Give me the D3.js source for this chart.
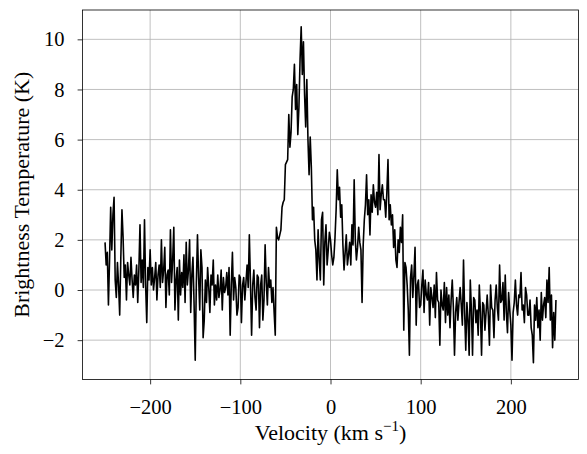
<!DOCTYPE html>
<html>
<head>
<meta charset="utf-8">
<script src="https://cdn.jsdelivr.net/npm/d3@7"></script>
<style>
    body { margin: 0; background: #fff; }
    text { font-family: "Liberation Serif", "DejaVu Serif", serif; fill: #000; }
</style>
</head>
<body>
<div id="main"></div>
<script>
/// Data ///
// channel grid of the spectrum (km/s)
const velStart = -250;
const velStop = 250;
const velStep = 1.25;

// brightness temperature per channel (K) (8 channels = 10 km/s per row)
const temps = [
     1.9,  1.0,  1.5, -0.6,  1.2,  3.3,  1.6,  3.0,   // -250
     3.7,  0.4, -0.3,  1.1,  0.2, -1.0,  1.3,  3.2,   // -240
     2.1,  0.5,  1.0, -0.4,  1.1,  0.6,  0.2,  1.3,   // -230
     0.4, -0.3,  0.6,  0.2,  1.0, -0.5,  0.8,  2.6,   // -220
     0.3,  1.2,  0.1,  2.8,  0.2, -1.3,  0.9,  0.4,   // -210
     1.6,  0.2,  0.9,  0.0,  0.5,  1.1, -0.4,  0.6,   // -200
     1.0,  0.1,  2.0,  0.3,  0.8,  1.7, -0.7,  0.6,   // -190
     0.8, -0.2,  2.4,  0.3,  1.2,  2.5, -0.8,  0.4,   // -180
     0.9, -1.2,  1.2, -0.2,  0.7,  0.1,  1.4, -0.5,   // -170
     1.9,  0.2,  0.8,  2.0, -0.9,  0.6,  1.3, -0.6,   // -160
    -2.8,  0.3,  2.2,  0.5, -0.8,  1.6,  0.9, -1.9,   // -150
    -1.2,  0.4, -0.5,  0.9,  0.1, -0.9,  0.6,  0.2,   // -140
     1.2, -0.6,  0.2, -0.4,  0.6, -0.3,  0.0,  0.8,   // -130
    -0.8,  0.5, -0.1,  0.1,  0.7, -0.2,  0.9, -1.8,   // -120
     0.2,  1.5, -0.4,  0.5,  0.1, -1.0, -0.7,  0.6,   // -110
     0.5, -1.3,  0.2,  0.5, -0.4,  0.3,  1.0,  0.1,   // -100
     2.2,  0.3, -1.8,  0.2,  0.8, -0.3, -0.8,  0.6,   // -90
     0.5, -1.5,  0.2,  0.6, -1.2, -0.4,  1.8,  0.3,   // -80
    -0.6,  0.9,  0.1,  0.4, -0.5,  0.1, -0.9, -1.8,   // -70
     2.5,  2.1,  2.0,  2.2,  2.4,  3.3,  3.5,  3.6,   // -60
     5.0,  5.1,  5.2,  7.0,  5.7,  6.3,  7.7,  8.0,   // -50
     9.0,  7.2,  8.2,  6.2,  7.3,  9.2, 10.5,  8.6,   // -40
     9.9,  7.8,  6.5,  8.4,  6.0,  4.6,  6.1,  4.9,   // -30
     2.8,  3.3,  2.0,  1.6,  0.4,  2.4,  1.2,  0.4,   // -20
     2.8,  3.1,  0.2,  1.9,  2.6,  1.0,  1.6,  2.3,   // -10
     2.0,  1.4,  1.0,  1.3,  2.1,  3.2,  4.8,  3.6,   // 0
     4.1,  2.9,  3.4,  1.8,  0.8,  1.5,  2.2,  1.0,   // 10
     1.4,  1.9,  1.0,  2.6,  1.8,  4.4,  2.0,  1.2,   // 20
     1.7,  2.5,  1.9,  1.6, -0.5,  1.8,  2.8,  3.4,   // 30
     4.6,  3.0,  3.6,  2.2,  3.8,  3.1,  4.2,  3.5,   // 40
     3.3,  3.9,  3.0,  5.4,  3.2,  3.8,  4.2,  3.6,   // 50
     3.6,  2.9,  3.9,  5.2,  2.8,  3.4,  2.6,  3.0,   // 60
     1.7,  2.4,  1.2,  0.9,  2.0,  1.5,  2.5,  1.9,   // 70
     3.0, -1.6,  1.1,  0.9,  0.2, -0.8, -2.6,  0.5,   // 80
     1.0, -0.3,  0.6,  1.7, -1.4,  0.2,  0.4, -0.7,   // 90
    -0.6,  0.2,  0.8, -0.9,  0.4, -0.2, -0.4,  0.3,   // 100
    -1.4,  0.1, -0.3, -0.7,  0.2, -1.1,  0.7, -0.4,   // 110
    -0.5, -2.2,  0.0, -0.6, -0.8,  0.3, -1.3,  0.1,   // 120
    -1.0, -0.2, -1.5, -0.4,  0.4, -0.7, -2.6, -0.9,   // 130
    -0.3, -1.2, -0.5,  0.1, -0.6, -1.4,  1.2, -0.9,   // 140
    -2.4, -0.5, -1.2, -2.6,  0.4, -0.8, -2.6, -0.3,   // 150
    -0.4, -1.3, -0.8, -1.8,  0.2, -0.9, -2.6, -0.5,   // 160
    -0.6, -1.6, -0.9, -0.2, -1.0, -2.2,  0.2, -0.7,   // 170
    -0.8, -1.9, -0.4,  0.2, -0.7, -1.2,  1.0, -0.5,   // 180
    -0.4,  0.3, -1.2,  0.6, -0.9, -1.7, -0.1, -0.8,   // 190
    -1.4, -2.8, -0.9, -0.5,  0.4, -0.6, -1.0, -0.2,   // 200
    -0.3,  0.7, -0.8, -0.6, -1.3,  0.1, -0.2, -1.0,   // 210
    -1.0, -0.4, -1.5, -1.8, -2.9, -0.6, -1.2, -0.3,   // 220
    -1.5, -0.8, -2.0, -0.1, -1.2, -0.6, -0.3, -1.1,   // 230
     0.4, -0.5,  0.9, -1.2, -0.2, -2.3, -0.9, -2.0,   // 240
    -0.4                                              // 250
];

const xTicks = [-200, -100, 0, 100, 200];
const yTicks = [-2, 0, 2, 4, 6, 8, 10];

const velocity = d3.range(velStart, velStop + velStep / 2, velStep);
const spectrum = velocity.map((v, i) => ({ v: v, t: temps[i] }));

/// Layout ///
const w = 587;
const h = 454;
const margin = { top: 10, right: 8.5, bottom: 74.5, left: 82.5 };

const svg = d3.select('#main')
            .append('svg')
            .attr('width', w)
            .attr('height', h);

// matplotlib style 5% padding around the data
function padded(ext) {
    const pad = (ext[1] - ext[0]) * 0.05;
    return [ext[0] - pad, ext[1] + pad];
}

const x = d3.scaleLinear()
            .domain(padded(d3.extent(velocity)))
            .range([margin.left, w - margin.right]);

const y = d3.scaleLinear()
            .domain(padded(d3.extent(temps)))
            .range([h - margin.bottom, margin.top]);

/// Grid ///
svg.append('g')
    .selectAll('line')
    .data(xTicks)
    .enter()
    .append('line')
    .attr('x1', d => x(d)).attr('x2', d => x(d))
    .attr('y1', margin.top).attr('y2', h - margin.bottom)
    .attr('stroke', '#b0b0b0')
    .attr('stroke-width', 0.8);

svg.append('g')
    .selectAll('line')
    .data(yTicks)
    .enter()
    .append('line')
    .attr('x1', margin.left).attr('x2', w - margin.right)
    .attr('y1', d => y(d)).attr('y2', d => y(d))
    .attr('stroke', '#b0b0b0')
    .attr('stroke-width', 0.8);

/// Spectrum line ///
const line = d3.line()
            .x(d => x(d.v))
            .y(d => y(d.t));

svg.append('path')
    .datum(spectrum)
    .attr('d', line)
    .attr('fill', 'none')
    .attr('stroke', '#000')
    .attr('stroke-width', 1.6)
    .attr('stroke-linejoin', 'round');

/// Axes ///
const fmt = d => (d < 0 ? '\u2212' + Math.abs(d) : String(d));

const xAxis = svg.append('g')
                .attr('transform', `translate(0,${h - margin.bottom})`)
                .call(d3.axisBottom(x).tickValues(xTicks).tickSize(4.9).tickPadding(5).tickFormat(fmt));

const yAxis = svg.append('g')
                .attr('transform', `translate(${margin.left},0)`)
                .call(d3.axisLeft(y).tickValues(yTicks).tickSize(4.9).tickPadding(13).tickFormat(fmt));

[xAxis, yAxis].forEach(a => {
    a.select('.domain').remove();
    a.selectAll('line').attr('stroke', '#000').attr('stroke-width', 0.8);
    a.selectAll('text')
        .style('font-family', '"Liberation Serif", serif')
        .style('font-size', '20.5px')
        .attr('fill', '#000');
});
xAxis.selectAll('text').attr('dy', '1.2em');

// frame around the plot area
svg.append('rect')
    .attr('x', margin.left)
    .attr('y', margin.top)
    .attr('width', w - margin.left - margin.right)
    .attr('height', h - margin.top - margin.bottom)
    .attr('fill', 'none')
    .attr('stroke', '#000')
    .attr('stroke-width', 0.8);

/// Labels ///
const xLabel = svg.append('text')
                .attr('x', (margin.left + w - margin.right) / 2)
                .attr('y', 440)
                .attr('text-anchor', 'middle')
                .style('font-size', '22px');
xLabel.append('tspan').text('Velocity (km s');
xLabel.append('tspan').text('\u22121').attr('dy', -9).style('font-size', '15px');
xLabel.append('tspan').text(')').attr('dy', 9);

svg.append('text')
    .attr('transform', `translate(28.5,${(margin.top + h - margin.bottom) / 2}) rotate(-90)`)
    .attr('text-anchor', 'middle')
    .style('font-size', '22px')
    .text('Brightness Temperature (K)');
</script>
</body>
</html>
